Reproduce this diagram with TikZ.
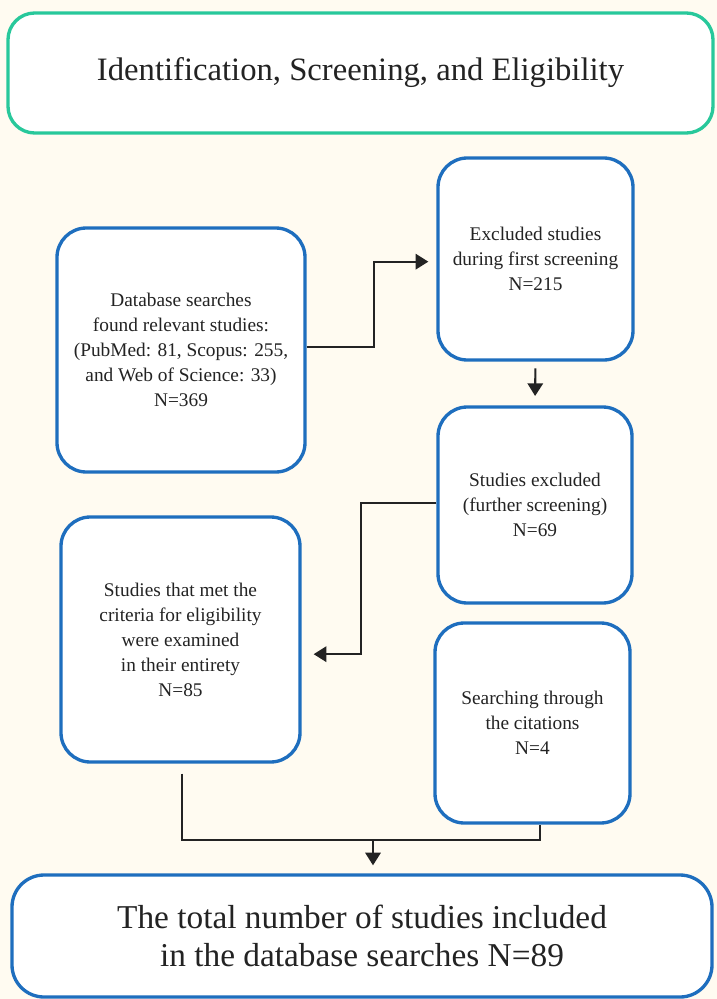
\documentclass[tikz,border=0pt]{standalone}
\usepackage{fontspec}
\setmainfont{Liberation Serif}
\usetikzlibrary{arrows.meta,calc}
\definecolor{bg}{RGB}{255,251,241}
\definecolor{boxblue}{RGB}{30,110,190}
\definecolor{boxgreen}{RGB}{40,200,155}
\definecolor{ink}{RGB}{35,35,35}
\tikzset{
  blbox/.style={draw=boxblue, line width=2.5pt, fill=white, rounded corners=22pt,
    align=center, text=ink, inner sep=0pt, font=\fontsize{14.5}{18.75}\selectfont},
  grbox/.style={draw=boxgreen, line width=2.5pt, fill=white, rounded corners=20pt,
    align=center, text=ink, inner sep=0pt, font=\fontsize{24.5}{28.5}\selectfont},
  bigbox/.style={blbox, rounded corners=24pt, font=\fontsize{25}{28.5}\selectfont},
  conn/.style={draw=ink, line width=1.6pt},
  arr/.style={conn, -{Triangle[length=9.5pt,width=11.5pt]}},
}
\begin{document}
\begin{tikzpicture}[x=0.75pt,y=-0.75pt]
\fill[bg] (0,0) rectangle (717,999);
\useasboundingbox (0,0) rectangle (717,999);
\node[grbox, minimum width=705*0.75pt, minimum height=120*0.75pt] (T) at (360.5,73)
  {Identification, Screening, and Eligibility};
\node[blbox, minimum width=248*0.75pt, minimum height=244*0.75pt] (A) at (181,350)
  {Database searches\\found relevant studies:\\(PubMed: 81, Scopus: 255,\\and Web of Science: 33)\\N=369};
\node[blbox, minimum width=195*0.75pt, minimum height=202*0.75pt] (B) at (535.5,259)
  {Excluded studies\\during first screening\\N=215};
\node[blbox, minimum width=194*0.75pt, minimum height=196*0.75pt] (C) at (535,505)
  {Studies excluded\\(further screening)\\N=69};
\node[blbox, minimum width=239*0.75pt, minimum height=245*0.75pt] (D) at (180.5,639.5)
  {Studies that met the\\criteria for eligibility\\were examined\\in their entirety\\N=85};
\node[blbox, minimum width=195*0.75pt, minimum height=200*0.75pt] (E) at (532.5,723)
  {Searching through\\the citations\\N=4};
\node[bigbox, minimum width=700*0.75pt, minimum height=122*0.75pt] (F) at (362,936)
  {The total number of studies included\\in the database searches N=89};
\draw[arr, shorten >=6pt] ([yshift=2pt]A.east) -- ++(67,0) |- ([yshift=-2pt]B.west);
\draw[arr, shorten <=5pt, shorten >=7pt] (B.south) -- (C.north);
\draw[arr, shorten >=9pt] ([yshift=1.5pt]C.west) -- ++(-75,0) |- ([yshift=-11pt]D.east);
\coordinate (J) at (373,840);
\draw[conn, shorten <=7.5pt] ([xshift=1pt]D.south) |- (J) -| ([xshift=5.6pt]E.south);
\draw[arr, shorten >=6pt] (J) -- (J |- F.north);
\end{tikzpicture}
\end{document}
